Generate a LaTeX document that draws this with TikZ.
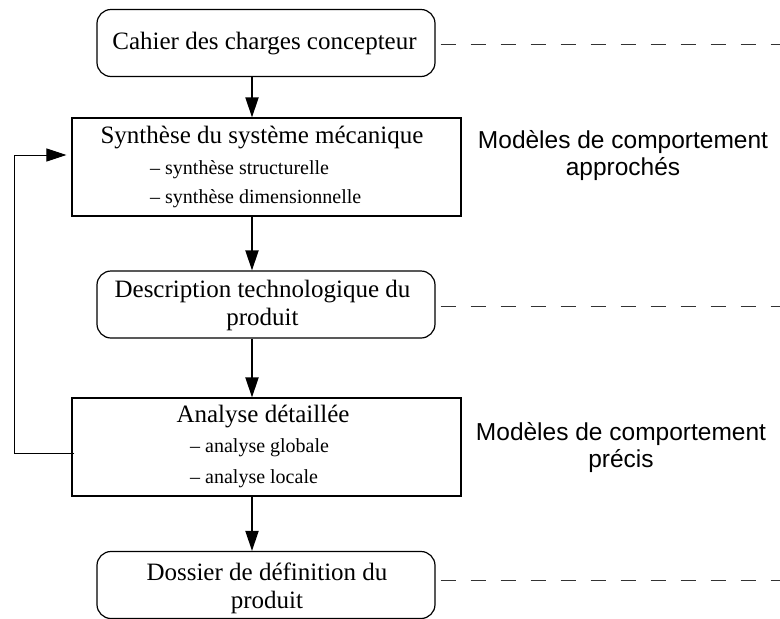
\documentclass[tikz,border=0pt]{standalone}
\usepackage{fontspec}
\setmainfont{Liberation Serif}
\newfontfamily\labelfont{Liberation Sans}
\usetikzlibrary{arrows.meta}

\begin{document}
\begin{tikzpicture}[x=1pt,y=-1pt]

\tikzset{block/.style = {shape=rectangle,draw,line width=1.2pt,minimum width=389pt,minimum height=98pt}}
\tikzset{roundblock/.style = {shape=rectangle,draw,rounded corners=14pt,line width=1.2pt,minimum width=338pt,minimum height=67pt}}
\tikzset{title/.style = {anchor=base,inner sep=0pt,align=center,font=\fontsize{25}{28}\selectfont}}
\tikzset{item/.style = {anchor=base west,inner sep=0pt,font=\fontsize{20}{24}\selectfont}}
\tikzset{model/.style = {anchor=base,inner sep=0pt,align=center,font=\labelfont\fontsize{24.5}{27}\selectfont}}
\tikzset{edge/.style = {line width=2pt,-{Triangle[length=20pt,width=13pt]}}}
\tikzset{back/.style = {line width=1pt,-{Triangle[length=20pt,width=13pt]},shorten >=5pt}}
\tikzset{level/.style = {line width=1pt,black!80,dash pattern=on 15pt off 15pt,dash phase=25pt}}

\useasboundingbox (0,0) rectangle (780,619);

%blocks
\node[roundblock] (cahier) at (266,43) {};
\node[block] (synthese) at (266.5,167) {};
\node[roundblock] (description) at (266,304.5) {};
\node[block] (analyse) at (266.5,447) {};
\node[roundblock] (dossier) at (266,585) {};
%texts (two-line nodes sit on their last baseline)
\node[title] (cahiertxt) at (264.5,49.5) {Cahier des charges concepteur};
\node[title] (synthesetxt) at (262,143.3) {Synthèse du système mécanique};
\node[item] (structure) at (150,174.7) {– synthèse structurelle};
\node[item] (dimension) at (150,203.3) {– synthèse dimensionnelle};
\node[title] (descriptiontxt) at (262.5,325.3) {Description technologique du\\produit};
\node[title] (analysetxt) at (263,422.7) {Analyse détaillée};
\node[item] (globale) at (190,452.7) {– analyse globale};
\node[item] (locale) at (190,483.3) {– analyse locale};
\node[title] (dossiertxt) at (267,608) {Dossier de définition du\\produit};
\node[model] (approche) at (623,175.3) {Modèles de comportement\\approchés};
\node[model] (precis) at (621,467.7) {Modèles de comportement\\précis};
%edges
\coordinate (axis) at (252,0);
\draw[edge] (cahier.south -| axis) -- (synthese.north -| axis);
\draw[edge] (synthese.south -| axis) -- (description.north -| axis);
\draw[edge] (description.south -| axis) -- (analyse.north -| axis);
\draw[edge] (analyse.south -| axis) -- (dossier.north -| axis);
%feedback
\coordinate (fbfoot) at (14,453);
\coordinate (fbtop) at (14,155);
\draw[back] ([xshift=3pt]analyse.west |- fbfoot) -- (fbfoot) -- (fbtop) -- (synthese.west |- fbtop);
%levels
\coordinate (end1) at (780,44);
\coordinate (end2) at (780,306.7);
\coordinate (end3) at (780,580);
\draw[level] (cahier.east |- end1) -- (end1);
\draw[level] (description.east |- end2) -- (end2);
\draw[level] (dossier.east |- end3) -- (end3);

\end{tikzpicture}
\end{document}
